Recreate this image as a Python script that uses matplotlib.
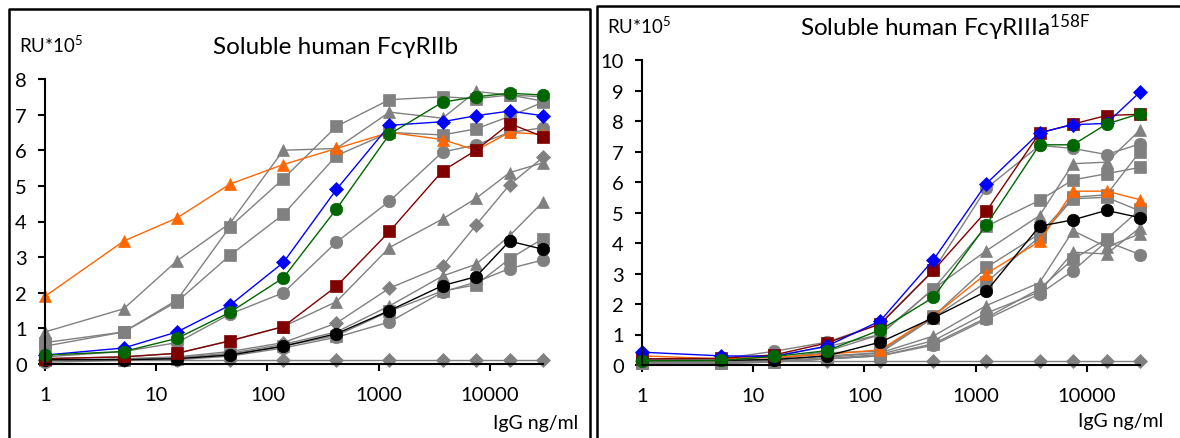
import numpy as np
import matplotlib.pyplot as plt
from matplotlib.lines import Line2D

plt.rcParams['font.family'] = ['Lato', 'DejaVu Sans']
plt.rcParams['mathtext.default'] = 'regular'

# IgG concentrations (ng/ml)
conc = [1, 5.1, 15.4, 46, 139, 417, 1250, 3750, 7500, 15000, 30000]

# Soluble human FcgRIIb (RU*10^5)
riib_orange = [1.9, 3.45, 4.1, 5.05, 5.6, 6.05, 6.5, 6.3, 6.0, 6.5, 6.45]
riib_blue = [0.25, 0.45, 0.9, 1.65, 2.85, 4.9, 6.7, 6.8, 6.97, 7.1, 6.97]
riib_green = [0.25, 0.35, 0.72, 1.45, 2.42, 4.35, 6.45, 7.35, 7.5, 7.6, 7.55]
riib_red = [0.15, 0.2, 0.3, 0.65, 1.05, 2.18, 3.72, 5.42, 6.0, 6.75, 6.38]
riib_black = [0.12, 0.12, 0.15, 0.25, 0.5, 0.85, 1.5, 2.2, 2.45, 3.45, 3.22]
riib_tri_a = [0.9, 1.55, 2.9, 3.95, 6.0, 6.05, 7.07, 6.9, 7.65, 7.55, 7.5]
riib_sq_a = [0.6, 0.9, 1.8, 3.85, 5.2, 6.67, 7.42, 7.5, 7.45, 7.55, 7.38]
riib_sq_b = [0.5, 0.9, 1.75, 3.05, 4.2, 5.85, 6.5, 6.43, 6.6, 6.95, 7.35]
riib_circ_a = [0.2, 0.35, 0.6, 1.4, 2.0, 3.42, 4.57, 5.95, 6.15, 6.5, 6.63]
riib_tri_b = [0.15, 0.2, 0.3, 0.65, 1.05, 1.75, 3.27, 4.07, 4.65, 5.37, 5.65]
riib_dia_a = [0.1, 0.15, 0.2, 0.35, 0.6, 1.15, 2.13, 2.75, 3.9, 5.03, 5.8]
riib_tri_c = [0.1, 0.12, 0.18, 0.3, 0.55, 0.9, 1.63, 2.47, 2.8, 3.6, 4.55]
riib_sq_c = [0.1, 0.12, 0.15, 0.28, 0.5, 0.8, 1.48, 2.05, 2.22, 2.95, 3.52]
riib_circ_b = [0.05, 0.1, 0.12, 0.22, 0.45, 0.75, 1.18, 2.02, 2.3, 2.68, 2.92]
riib_dia_flat = [0.1, 0.1, 0.1, 0.1, 0.1, 0.1, 0.1, 0.1, 0.1, 0.1, 0.1]

# Soluble human FcgRIIIa 158F (RU*10^5)
r3_blue = [0.42, 0.3, 0.28, 0.62, 1.45, 3.45, 5.95, 7.62, 7.88, 7.92, 8.95]
r3_red = [0.2, 0.22, 0.33, 0.72, 1.35, 3.1, 5.05, 7.6, 7.9, 8.18, 8.22]
r3_green = [0.14, 0.15, 0.28, 0.47, 1.15, 2.22, 4.6, 7.22, 7.22, 7.9, 8.24]
r3_orange = [0.3, 0.2, 0.25, 0.35, 0.5, 1.6, 3.0, 4.05, 5.7, 5.7, 5.42]
r3_black = [0.15, 0.15, 0.18, 0.3, 0.75, 1.55, 2.42, 4.55, 4.76, 5.07, 4.83]
r3_circ_a = [0.2, 0.2, 0.45, 0.75, 1.35, 3.1, 5.8, 7.2, 7.1, 6.9, 7.25]
r3_tri_a = [0.1, 0.12, 0.2, 0.45, 1.0, 2.5, 3.75, 4.9, 6.6, 6.65, 7.7]
r3_sq_a = [0.15, 0.15, 0.3, 0.6, 1.0, 2.5, 4.55, 5.4, 6.07, 6.27, 6.48]
r3_sq_b = [0.1, 0.1, 0.2, 0.4, 0.45, 1.6, 3.2, 4.3, 5.5, 5.58, 7.0]
r3_sq_c = [0.1, 0.1, 0.15, 0.3, 0.4, 1.55, 2.72, 4.2, 5.45, 5.5, 5.05]
r3_tri_b = [0.08, 0.1, 0.12, 0.25, 0.4, 0.95, 1.95, 2.7, 4.4, 3.87, 4.3]
r3_sq_d = [0.05, 0.05, 0.1, 0.2, 0.3, 0.7, 1.55, 2.5, 3.47, 4.13, 5.1]
r3_circ_b = [0.05, 0.05, 0.1, 0.2, 0.3, 0.65, 1.5, 2.33, 3.09, 4.05, 3.62]
r3_tri_c = [0.05, 0.08, 0.1, 0.2, 0.35, 0.8, 1.7, 2.4, 3.7, 3.64, 4.5]
r3_dia_flat = [0.12, 0.12, 0.12, 0.12, 0.12, 0.12, 0.12, 0.12, 0.12, 0.12, 0.12]

xticks = [1, 10, 100, 1000, 10000]
xtick_labels = ['1', '10', '100', '1000', '10000']

GRAY = '#808080'
W, H = 1180, 439

fig = plt.figure(figsize=(W / 100, H / 100), dpi=100)


def px(x, y):
    return x / W, 1 - y / H


def draw(ax, y, color, marker, ms):
    ax.plot(conc, y, color=color, lw=1.0, marker=marker, ms=ms,
            mfc=color, mec=color, mew=0.5, clip_on=False)


def style(ax, ymax):
    ax.set_xscale('log')
    ax.set_xlim(1, 30000)
    ax.set_ylim(0, ymax)
    ax.set_yticks(range(0, ymax + 1))
    ax.set_xticks(xticks)
    ax.set_xticklabels(xtick_labels)
    ax.minorticks_off()
    for s in ['top', 'right']:
        ax.spines[s].set_visible(False)
    for s in ['left', 'bottom']:
        ax.spines[s].set_linewidth(1.5)
    ax.tick_params(axis='both', direction='out', length=5, width=1.5, labelsize=14.5)
    ax.tick_params(axis='y', pad=8)
    ax.tick_params(axis='x', pad=11)
    ax.patch.set_alpha(0)


# left panel
ax1 = fig.add_axes([45 / W, 1 - 365 / H, 498 / W, 285 / H])
for y, m, ms in [(riib_dia_flat, 'D', 7), (riib_tri_a, '^', 9), (riib_sq_a, 's', 8),
                 (riib_sq_b, 's', 8), (riib_circ_a, 'o', 9), (riib_tri_b, '^', 9),
                 (riib_dia_a, 'D', 7), (riib_tri_c, '^', 9), (riib_sq_c, 's', 8),
                 (riib_circ_b, 'o', 9)]:
    draw(ax1, y, GRAY, m, ms)
draw(ax1, riib_orange, '#FF6600', '^', 9)
draw(ax1, riib_black, 'black', 'o', 9)
draw(ax1, riib_red, '#800000', 's', 8)
draw(ax1, riib_blue, '#0000FF', 'D', 7)
draw(ax1, riib_green, '#006600', 'o', 9)
style(ax1, 8)

# right panel
ax2 = fig.add_axes([642 / W, 1 - 366 / H, 498 / W, 305 / H])
for y, m, ms in [(r3_dia_flat, 'D', 7), (r3_circ_a, 'o', 9), (r3_tri_a, '^', 9),
                 (r3_sq_a, 's', 8), (r3_sq_b, 's', 8), (r3_sq_c, 's', 8),
                 (r3_tri_b, '^', 9), (r3_sq_d, 's', 8), (r3_circ_b, 'o', 9),
                 (r3_tri_c, '^', 9)]:
    draw(ax2, y, GRAY, m, ms)
draw(ax2, r3_orange, '#FF6600', '^', 9)
draw(ax2, r3_black, 'black', 'o', 9)
draw(ax2, r3_red, '#800000', 's', 8)
draw(ax2, r3_blue, '#0000FF', 'D', 7)
draw(ax2, r3_green, '#006600', 'o', 9)
style(ax2, 10)

# panel frames
for xs, ys in [([9, 9, 589.5, 589.5], [439, 10, 10, 439]),
               ([597, 597, 1180], [439, 7, 7])]:
    fig.add_artist(Line2D([x / W for x in xs], [1 - y / H for y in ys],
                          transform=fig.transFigure, color='black', lw=1.8))

# texts
fig.text(*px(19, 45), r'RU*10$^{5}$', fontsize=13.5, va='center', ha='left')
fig.text(*px(336, 47), 'Soluble human FcγRIIb', fontsize=17.5, va='center', ha='center')
fig.text(*px(578, 424), 'IgG ng/ml', fontsize=14, va='center', ha='right')
fig.text(*px(607, 26), r'RU*10$^{5}$', fontsize=13.5, va='center', ha='left')
fig.text(*px(945, 28), r'Soluble human FcγRIIIa$^{158F}$', fontsize=17.5, va='center', ha='center')
fig.text(*px(1163, 422), 'IgG ng/ml', fontsize=14, va='center', ha='right')

fig.savefig('out.png', dpi=100)
